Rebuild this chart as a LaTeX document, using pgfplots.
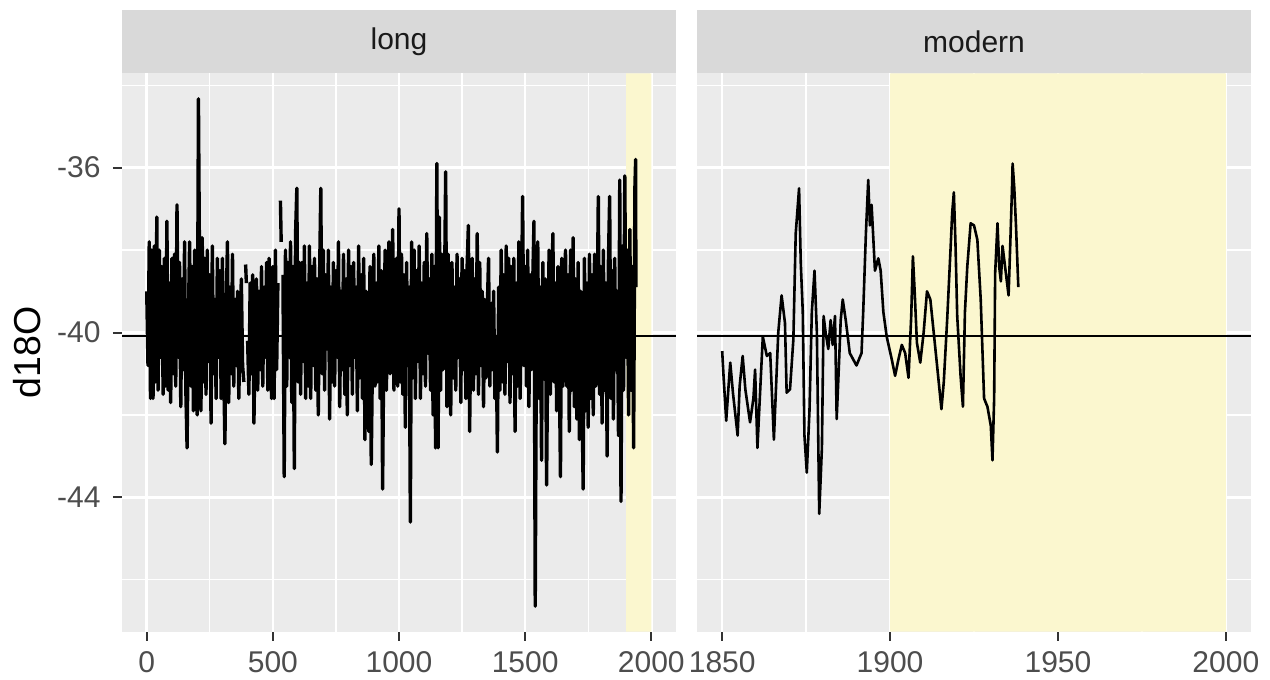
\documentclass[border=0pt]{standalone}
\usepackage{pgfplots}
\pgfplotsset{compat=1.18}
\usepackage{fontspec}
\setmainfont{Liberation Sans}
\definecolor{panelbg}{HTML}{EBEBEB}
\definecolor{stripbg}{HTML}{D9D9D9}
\definecolor{ticklab}{HTML}{4D4D4D}
\definecolor{tickcol}{HTML}{333333}
\definecolor{striptext}{HTML}{1A1A1A}
\definecolor{hl}{HTML}{FBF7CF}
\pgfplotsset{
  facet/.style={
    scale only axis, width=277bp, height=279.2bp,
    ymin=-47.26, ymax=-33.71,
    axis background/.style={fill=panelbg},
    axis line style={draw=none},
    grid=both,
    major grid style={white, line width=1.3bp},
    minor grid style={white, line width=0.65bp},
    ytick={-44,-40,-36}, minor ytick={-46,-42,-38,-34},
    xtick pos=bottom, ytick pos=left,
    tick align=outside,
    major tick length=4.5bp, minor tick length=0pt,
    every tick/.style={tickcol, line width=1bp},
    tick label style={font=\fontsize{15bp}{18bp}\selectfont, text=ticklab},
    xticklabel style={anchor=north, inner sep=0pt, yshift=-5bp},
    yticklabel style={anchor=east, inner sep=0pt, xshift=-6bp},
    unbounded coords=jump,
  }
}
\begin{document}
\begin{tikzpicture}
\fill[white] (0,0) rectangle (635bp,340bp);
\path[use as bounding box] (0,0) rectangle (635bp,340bp);
% ---------------- long panel
\begin{axis}[facet, at={(61bp,24.15bp)}, anchor=south west,
  xmin=-98, xmax=2098,
  xtick={0,500,1000,1500,2000}, minor xtick={250,750,1250,1750},
  xticklabels={0,500,1000,1500,2000},
  yticklabels={-44,-40,-36},
  ylabel={d18O},
  every axis y label/.style={at={(rel axis cs:0,0.5)}, xshift=-47.5bp, rotate=90, anchor=center, font=\fontsize{18.75bp}{22bp}\selectfont, text=black},
]
\addplot[fill=hl, draw=none] coordinates {(1900,-47.26) (2000,-47.26) (2000,-33.71) (1900,-33.71) (1900,-47.26)};
\addplot[black, line width=1.2bp] coordinates {(-98,-40.08) (2098,-40.08)};
\addplot[black, line width=1.7bp, line join=round] table {
x y
0 -39.0
5 -40.8
10 -37.8
15 -41.6
20 -38.0
25 -41.6
30 -37.9
35 -41.2
40 -37.2
45 -41.4
50 -38.0
55 -40.6
60 -38.4
65 -41.5
70 -38.2
75 -41.3
80 -37.3
85 -41.4
90 -38.8
95 -41.7
100 -38.2
105 -41.0
110 -38.1
115 -41.3
120 -36.9
125 -40.6
130 -38.3
135 -41.8
140 -38.7
145 -40.9
150 -37.8
155 -41.4
160 -42.8
165 -39.7
170 -37.8
175 -41.3
180 -38.4
185 -41.9
190 -38.0
195 -40.4
200 -42.0
205 -34.33
210 -39.0
215 -41.9
220 -37.7
225 -41.2
230 -38.2
235 -41.5
240 -38.0
245 -40.7
250 -38.6
255 -42.2
260 -37.9
265 -41.0
270 -39.2
275 -41.6
280 -38.2
285 -40.6
290 -38.5
295 -41.6
300 -38.2
305 -40.9
310 -42.7
315 -39.4
320 -37.8
325 -41.7
330 -38.9
335 -41.0
340 -38.1
345 -41.3
350 -39.2
355 -40.8
360 -39.0
365 -41.6
370 -40.0
375 -38.7
380 -40.8
385 -41.2
388 nan
392 -38.35
395 -38.8
398 nan
400 -40.2
405 -41.5
410 -38.8
415 -41.0
420 -38.6
425 -42.2
430 -40.0
435 -38.7
440 -41.4
445 -39.0
450 -40.9
455 -38.4
460 -41.3
465 -38.9
470 -40.6
475 -38.3
480 -41.4
485 -38.2
490 -40.3
495 -41.6
500 -38.4
505 -41.6
510 -38.0
515 -40.9
520 -38.8
525 nan
530 -36.8
533 -37.8
536 nan
540 -38.6
545 -43.5
550 -38.0
555 -41.3
560 -38.3
565 -40.6
570 -37.8
575 -41.7
580 -38.4
585 -43.3
590 -37.6
595 -36.5
600 -41.2
605 -38.3
610 -41.5
615 -38.3
620 -40.7
625 -37.9
630 -41.6
635 -38.8
640 -41.3
645 -37.9
650 -41.6
655 -38.4
660 -40.8
665 -38.2
670 -41.4
675 -38.7
680 -42.0
685 -38.7
690 -36.5
695 -41.0
700 -38.0
705 -41.4
710 -38.6
715 -40.4
720 -38.0
725 -42.1
730 -38.9
735 -41.2
740 -38.3
745 -41.3
750 -38.5
755 -40.6
760 -37.8
765 -41.8
770 -39.0
775 -40.9
780 -38.1
785 -41.5
790 -38.7
795 -42.0
800 -38.0
805 -40.8
810 -38.4
815 -41.5
820 -38.3
825 -40.6
830 -38.9
835 -41.9
840 -37.9
845 -41.1
850 -38.6
855 -41.6
860 -38.2
865 -42.6
870 -39.0
875 -40.3
880 -42.4
885 -38.4
890 -43.2
895 -40.5
900 -38.1
905 -41.3
910 -38.8
915 -41.2
920 -37.9
925 -41.6
930 -38.5
935 -43.8
940 -40.2
945 -38.0
950 -41.4
955 -39.3
960 -37.8
965 -41.0
970 -39.0
975 -37.5
980 -41.4
985 -39.6
990 -38.2
995 -41.3
1000 -37.0
1005 -41.2
1010 -38.1
1015 -41.5
1020 -38.6
1025 -42.3
1030 -38.3
1035 -40.8
1040 -38.9
1045 -44.6
1050 -37.8
1055 -41.1
1060 -38.0
1065 -41.6
1070 -38.5
1075 -40.7
1080 -37.9
1085 -41.6
1090 -38.8
1095 -41.0
1100 -38.3
1105 -41.3
1110 -37.6
1115 -40.5
1120 -38.7
1125 -41.4
1130 -38.1
1135 -42.0
1140 -38.4
1145 -42.8
1150 -35.9
1155 -42.8
1160 -37.2
1165 -41.4
1170 -38.1
1175 -40.9
1180 -39.2
1185 -36.1
1190 -41.8
1195 -38.1
1200 -40.5
1205 -42.0
1210 -38.3
1215 -41.1
1220 -38.9
1225 -41.4
1230 -38.1
1235 -40.6
1240 -38.7
1245 -41.7
1250 -38.2
1255 -40.9
1260 -38.5
1265 -41.6
1270 -38.4
1275 -37.4
1280 -42.4
1285 -39.6
1290 -38.2
1295 -41.4
1300 -38.7
1305 -41.0
1310 -37.6
1315 -41.5
1320 -38.3
1325 -40.8
1330 -39.0
1335 -41.8
1340 -39.2
1345 -41.1
1350 -39.4
1355 -38.2
1360 -41.3
1365 -39.3
1370 -40.9
1375 -39.0
1380 -41.6
1385 -40.1
1390 -42.9
1395 -38.9
1400 -41.4
1405 -38.0
1410 -41.2
1415 -38.6
1420 -41.5
1425 -37.9
1430 -40.7
1435 -38.2
1440 -41.7
1445 -38.4
1450 -41.0
1455 -38.2
1460 -42.4
1465 -38.8
1470 -41.3
1475 -37.8
1480 -41.6
1485 -39.5
1490 -36.7
1495 -40.8
1500 -38.4
1505 -41.3
1510 -38.0
1515 -41.8
1520 -38.6
1525 -40.9
1530 -38.8
1535 -37.3
1540 -46.64
1545 -39.8
1550 -37.8
1555 -41.6
1560 -38.9
1565 -43.1
1570 -38.3
1575 -41.0
1580 -38.7
1585 -43.7
1590 -40.2
1595 -38.0
1600 -41.5
1605 -39.1
1610 -37.6
1615 -41.2
1620 -38.8
1625 -41.9
1630 -38.4
1635 -40.6
1640 -43.5
1645 -38.2
1650 -41.3
1655 -39.5
1660 -38.0
1665 -41.3
1670 -38.6
1675 -42.4
1680 -38.0
1685 -41.4
1690 -37.7
1695 -41.8
1700 -38.7
1705 -42.1
1710 -38.3
1715 -42.6
1720 -39.0
1725 -41.4
1730 -43.8
1735 -38.2
1740 -41.9
1745 -38.8
1750 -42.3
1755 -38.1
1760 -41.6
1765 -38.6
1770 -42.0
1775 -38.1
1780 -41.3
1785 -39.8
1790 -36.7
1795 -41.5
1800 -38.4
1805 -42.2
1810 -38.0
1815 -41.4
1820 -38.8
1825 -43.0
1830 -38.3
1835 -36.7
1840 -41.6
1845 -38.5
1850 -42.1
1855 -38.2
1860 -40.9
1865 -39.0
1870 -42.5
1875 -36.3
1880 -44.1
1885 -37.9
1890 -41.4
1895 -36.2
1900 -40.6
1905 -38.0
1910 -42.0
1915 -37.5
1920 -41.4
1925 -38.4
1930 -42.8
1935 -36.5
1938 -35.8
1939 -38.9
};
\end{axis}
% ---------------- modern panel
\begin{axis}[facet, at={(348.5bp,24.15bp)}, anchor=south west,
  xmin=1842.5, xmax=2007.5,
  xtick={1850,1900,1950,2000}, minor xtick={1875,1925,1975},
  xticklabels={1850,1900,1950,2000},
  yticklabels={},
  every major y tick/.append style={draw=none},
]
\addplot[fill=hl, draw=none] coordinates {(1900,-47.26) (2000,-47.26) (2000,-33.71) (1900,-33.71) (1900,-47.26)};
\addplot[black, line width=1.2bp] coordinates {(1842.5,-40.08) (2007.5,-40.08)};
\addplot[black, line width=1.3bp, line join=round] table {
x y
1850.0 -40.45
1850.4 -41.05
1851.2 -42.14
1851.9 -41.3
1852.4 -40.73
1853.2 -41.46
1854.6 -42.5
1855.2 -41.3
1856.1 -40.57
1856.9 -41.38
1858.3 -42.18
1859.3 -41.6
1859.8 -40.9
1860.5 -42.8
1861.1 -41.77
1862.1 -40.1
1863.3 -40.57
1864.3 -40.5
1865.4 -42.6
1866.7 -40.0
1867.7 -39.1
1868.7 -39.77
1869.2 -41.46
1870.2 -41.38
1871.2 -40.17
1871.9 -37.6
1872.9 -36.5
1873.4 -38.3
1874.0 -39.5
1874.5 -42.5
1875.2 -43.4
1876.0 -41.9
1876.7 -39.5
1877.5 -38.5
1878.2 -40.0
1878.9 -44.4
1879.7 -42.8
1880.2 -39.6
1880.8 -40.0
1881.6 -40.4
1882.3 -39.7
1882.9 -40.3
1883.6 -39.6
1884.1 -42.1
1884.8 -40.73
1885.3 -39.7
1885.9 -39.2
1886.8 -39.7
1888.0 -40.5
1890.0 -40.8
1891.5 -40.5
1892.0 -39.5
1892.8 -37.6
1893.5 -36.3
1894.0 -37.4
1894.5 -36.9
1895.5 -38.5
1896.5 -38.2
1897.2 -38.5
1898.0 -39.5
1899.0 -40.1
1900.5 -40.65
1901.5 -41.05
1902.5 -40.65
1903.5 -40.3
1904.5 -40.5
1905.5 -41.1
1906.3 -39.6
1906.8 -38.15
1907.3 -38.96
1908.0 -40.25
1909.0 -40.73
1910.0 -40.0
1911.0 -39.0
1912.0 -39.2
1913.0 -40.0
1914.0 -40.8
1915.3 -41.86
1916.0 -41.2
1917.0 -39.7
1918.0 -38.0
1918.5 -37.1
1919.0 -36.6
1919.5 -37.9
1920.0 -39.6
1921.0 -41.05
1921.7 -41.8
1922.3 -39.5
1923.0 -38.4
1924.0 -37.35
1925.0 -37.4
1926.0 -37.75
1927.0 -39.2
1928.0 -41.6
1929.0 -41.8
1930.0 -42.26
1930.5 -43.1
1931.0 -41.6
1931.3 -38.56
1932.0 -37.35
1932.5 -38.4
1933.0 -38.76
1933.5 -37.9
1935.3 -39.1
1935.8 -37.85
1936.3 -36.55
1936.5 -35.9
1937.0 -36.5
1937.5 -37.4
1938.0 -38.47
1938.2 -38.9
};
\end{axis}
% ---------------- strips
\fill[stripbg] (61bp,303.35bp) rectangle (338bp,335bp);
\fill[stripbg] (348.5bp,303.35bp) rectangle (625.5bp,335bp);
\node[font=\fontsize{15bp}{18bp}\selectfont, text=striptext] at (199.5bp,319.2bp) {long};
\node[font=\fontsize{15bp}{18bp}\selectfont, text=striptext] at (487bp,319.2bp) {modern};
\end{tikzpicture}
\end{document}
